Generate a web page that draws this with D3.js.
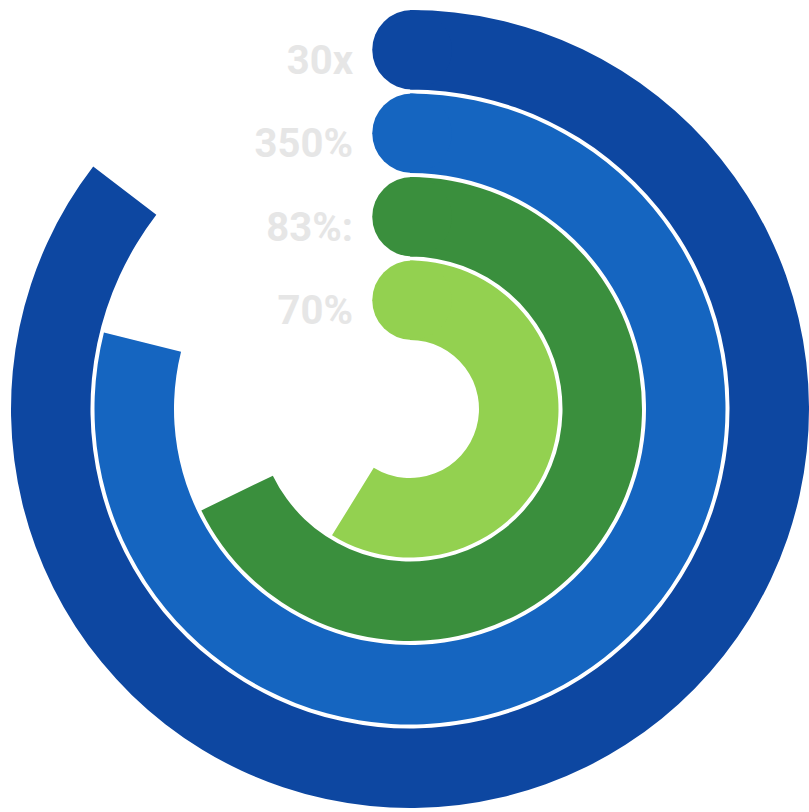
<!DOCTYPE html>
<html>
<head>
<meta charset="utf-8">
<script src="https://cdn.jsdelivr.net/npm/d3@7"></script>
<style>
  html, body { margin: 0; padding: 0; background: #fff; overflow: hidden; }
</style>
</head>
<body>
<svg id="chart"></svg>
<script>
// rings, outer to inner
const labels = ["30x", "350%", "83%:", "70%"];
const values = [85.4, 78.9, 67.8, 58.8];   // percent of a full turn
const colors = ["#0d47a1", "#1565c0", "#3a8f3d", "#93d150"];

const width = 809, height = 812;
const cx = 410, cy = 409;
const innerR = 67, outerR = 401;
const gap = 4;

const svg = d3.select("#chart")
  .attr("width", width)
  .attr("height", height);

const g = svg.append("g")
  .attr("transform", `translate(${cx},${cy})`);

// band scale: inner ring -> outer ring
const band = d3.scaleBand()
  .domain(labels.slice().reverse())
  .range([innerR, outerR])
  .paddingInner(0);

const angle = d3.scaleLinear()
  .domain([0, 100])
  .range([0, 2 * Math.PI]);

const arc = d3.arc()
  .innerRadius(d => band(d.label) + gap / 2)
  .outerRadius(d => band(d.label) + band.bandwidth() - gap / 2)
  .startAngle(0)
  .endAngle(d => angle(d.value));

const rows = labels.map((label, i) => ({ label, value: values[i], color: colors[i] }));

const ring = g.selectAll("g.ring")
  .data(rows)
  .join("g")
  .attr("class", "ring");

ring.append("path")
  .attr("d", arc)
  .attr("fill", d => d.color);

// round start cap
ring.append("circle")
  .attr("cx", 2)
  .attr("cy", d => -(band(d.label) + band.bandwidth() / 2))
  .attr("r", d => band.bandwidth() / 2 - gap / 2)
  .attr("fill", d => d.color);

// labels left of the caps
ring.append("text")
  .attr("x", 353 - cx)
  .attr("y", d => -(band(d.label) + band.bandwidth() / 2) + 24)
  .attr("text-anchor", "end")
  .attr("font-family", "Roboto, 'Liberation Sans', sans-serif")
  .attr("font-weight", "bold")
  .attr("font-size", "40px")
  .attr("fill", "#e6e6e6")
  .text(d => d.label);
</script>
</body>
</html>
